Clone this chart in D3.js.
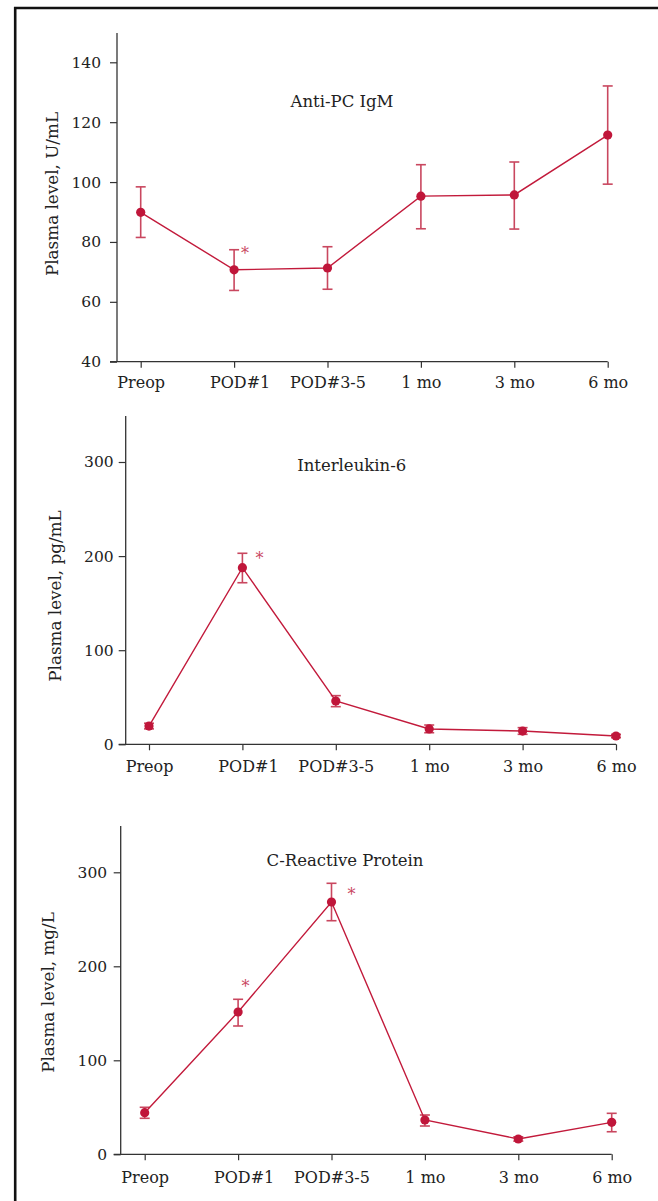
<!DOCTYPE html>
<html>
<head>
<meta charset="utf-8">
<script src="https://cdn.jsdelivr.net/npm/d3@7"></script>
<style>
  html, body { margin: 0; padding: 0; background: #fff; }
  svg { display: block; }
  text { font-family: "DejaVu Serif", "Liberation Serif", serif; fill: #222; }
</style>
</head>
<body>
<script>
// ---------- DATA ----------
const categories = ["Preop", "POD#1", "POD#3-5", "1 mo", "3 mo", "6 mo"];

const igmMean  = [89.9, 70.7, 71.3, 95.3, 95.7, 115.7];
const igmUpper = [98.4, 77.4, 78.4, 105.8, 106.7, 132.1];
const igmLower = [81.5, 63.8, 64.2, 84.4, 84.3, 99.3];
const igmSig   = [false, true, false, false, false, false];
const igmTicks = [40, 60, 80, 100, 120, 140];

const il6Mean  = [19.4, 187.7, 46.0, 16.3, 14.1, 8.8];
const il6Upper = [22.4, 203.0, 51.7, 20.5, 17.7, 10.6];
const il6Lower = [16.4, 171.7, 40.0, 12.3, 10.6, 7.0];
const il6Sig   = [false, true, false, false, false, false];
const il6Ticks = [0, 100, 200, 300];

const crpMean  = [44.3, 151.4, 268.4, 36.5, 16.3, 34.0];
const crpUpper = [50.0, 164.9, 288.3, 41.8, 18.6, 43.6];
const crpLower = [38.3, 136.5, 248.5, 30.1, 14.0, 24.0];
const crpSig   = [false, true, true, false, false, false];
const crpTicks = [0, 100, 200, 300];

const titles  = ["Anti-PC IgM", "Interleukin-6", "C-Reactive Protein"];
const yLabels = ["Plasma level, U/mL", "Plasma level, pg/mL", "Plasma level, mg/L"];

// ---------- LAYOUT ----------
const W = 658, H = 1201;
const panels = [
  { mean: igmMean, upper: igmUpper, lower: igmLower, sig: igmSig, ticks: igmTicks,
    title: titles[0], ylab: yLabels[0],
    axisX: 117, axisY: 361.7, top: 33, yDom: [40, 140], yTop: 62.3,
    xr: [140.7, 607.7], tickPad: 9, xLabOff: 26.5,
    titleX: 342, titleY: 107.3, ylabX: 51.7, ylabY: 194,
    star: { 1: [11, 0.3] } },
  { mean: il6Mean, upper: il6Upper, lower: il6Lower, sig: il6Sig, ticks: il6Ticks,
    title: titles[1], ylab: yLabels[1],
    axisX: 125.7, axisY: 744.3, top: 416, yDom: [0, 300], yTop: 462,
    xr: [149, 616], tickPad: 5, xLabOff: 27.4,
    titleX: 351.7, titleY: 470.7, ylabX: 55, ylabY: 596,
    star: { 1: [17, 1.7] } },
  { mean: crpMean, upper: crpUpper, lower: crpLower, sig: crpSig, ticks: crpTicks,
    title: titles[2], ylab: yLabels[2],
    axisX: 120.7, axisY: 1154.3, top: 826, yDom: [0, 300], yTop: 872.3,
    xr: [144.7, 611.7], tickPad: 6.5, xLabOff: 28.4,
    titleX: 345, titleY: 866, ylabX: 48.3, ylabY: 992.5,
    star: { 1: [7.3, -16.6], 2: [20, 7.4] } }
];
const labelShift = { "POD#1": 5.5 };

const lineColor = "#c21a3b", pointColor = "#c0163a", errColor = "#c9475f", axisColor = "#333";

const svg = d3.select("body").append("svg").attr("width", W).attr("height", H);

// frame
svg.append("path")
  .attr("d", `M15.2,${H + 5} L15.2,8 L${W + 5},8`)
  .attr("fill", "none").attr("stroke", "#111").attr("stroke-width", 2.6);

panels.forEach(p => {
  const g = svg.append("g");
  const x = d3.scalePoint().domain(categories).range(p.xr);
  const y = d3.scaleLinear().domain(p.yDom).range([p.axisY, p.yTop]);

  // y axis
  const ya = g.append("g").attr("transform", `translate(${p.axisX},0)`)
    .call(d3.axisLeft(y).tickValues(p.ticks).tickSize(7).tickPadding(p.tickPad).tickSizeOuter(0));
  ya.select(".domain").remove();
  ya.append("line").attr("x1", 0).attr("x2", 0).attr("y1", p.top).attr("y2", p.axisY)
    .attr("stroke", axisColor).attr("stroke-width", 1.3);
  ya.selectAll(".tick line").attr("stroke", axisColor).attr("stroke-width", 1.2);
  ya.selectAll(".tick text").attr("font-family", "DejaVu Serif").attr("font-size", 15.5).attr("fill", "#222");

  // x axis
  const xa = g.append("g").attr("transform", `translate(0,${p.axisY})`)
    .call(d3.axisBottom(x).tickSize(6).tickSizeOuter(0));
  xa.select(".domain").remove();
  xa.append("line").attr("x1", p.axisX - 7).attr("x2", p.xr[1]).attr("y1", 0).attr("y2", 0)
    .attr("stroke", axisColor).attr("stroke-width", 1.3);
  xa.selectAll(".tick line").attr("stroke", axisColor).attr("stroke-width", 1.2);
  xa.selectAll(".tick text")
    .attr("font-family", "DejaVu Serif").attr("font-size", 16).attr("fill", "#222")
    .attr("y", p.xLabOff).attr("dy", 0)
    .attr("x", d => labelShift[d] || 0);

  // title & y label
  g.append("text").attr("x", p.titleX).attr("y", p.titleY)
    .attr("text-anchor", "middle").attr("font-size", 16.5).text(p.title);
  g.append("text")
    .attr("transform", `translate(${p.ylabX},${p.ylabY}) rotate(-90)`)
    .attr("text-anchor", "middle").attr("dominant-baseline", "central")
    .attr("font-size", 16.8).text(p.ylab);

  const data = categories.map((c, i) => ({ c, i, m: p.mean[i], u: p.upper[i], l: p.lower[i], s: p.sig[i] }));

  // error bars
  const eb = g.append("g").attr("stroke", errColor).attr("stroke-width", 1.6).attr("fill", "none");
  data.forEach(d => {
    const cx = x(d.c);
    eb.append("line").attr("x1", cx).attr("x2", cx).attr("y1", y(d.u)).attr("y2", y(d.l));
    eb.append("line").attr("x1", cx - 5).attr("x2", cx + 5).attr("y1", y(d.u)).attr("y2", y(d.u));
    eb.append("line").attr("x1", cx - 5).attr("x2", cx + 5).attr("y1", y(d.l)).attr("y2", y(d.l));
  });

  // line
  g.append("path").datum(data)
    .attr("d", d3.line().x(d => x(d.c)).y(d => y(d.m)))
    .attr("fill", "none").attr("stroke", lineColor).attr("stroke-width", 1.4);

  // points
  g.selectAll("circle.pt").data(data).join("circle")
    .attr("cx", d => x(d.c)).attr("cy", d => y(d.m)).attr("r", 4.6)
    .attr("fill", pointColor);

  // significance asterisks
  data.filter(d => d.s).forEach(d => {
    const off = p.star[d.i] || [10, 0];
    g.append("text")
      .attr("x", x(d.c) + off[0]).attr("y", y(d.u) + off[1] + 9.4)
      .attr("text-anchor", "middle").attr("font-size", 16)
      .style("fill", errColor).text("*");
  });
});
</script>
</body>
</html>
